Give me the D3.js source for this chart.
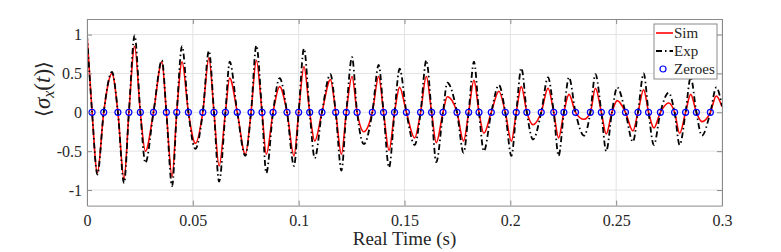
<!DOCTYPE html>
<html>
<head>
<meta charset="utf-8">
<script src="https://cdn.jsdelivr.net/npm/d3@7"></script>
<style>
  body { margin: 0; background: #fff; }
</style>
</head>
<body>
<script>
// time of each extremum (first one is t = 0)
const extTimes = [0, 0.0049, 0.0118, 0.0175, 0.0225, 0.0276, 0.0354, 0.0402, 0.0449, 0.0512,
  0.0576, 0.0624, 0.0674, 0.0748, 0.0800, 0.0847, 0.0910, 0.0978, 0.1025, 0.1076,
  0.1150, 0.1202, 0.1252, 0.1308, 0.1378, 0.1427, 0.1477, 0.1548, 0.1603, 0.1650,
  0.1702, 0.1779, 0.1828, 0.1875, 0.1946, 0.2005, 0.2052, 0.2107, 0.2178, 0.2228,
  0.2277, 0.2348, 0.2402, 0.2453, 0.2505, 0.2579, 0.2630, 0.2678, 0.2748, 0.2800,
  0.2852, 0.2905, 0.2973];
const expExt = [1.0, -0.80, 0.52, -0.91, 0.99, -0.65, 0.67, -0.95, 0.85, -0.47,
  0.79, -0.89, 0.65, -0.56, 0.86, -0.78, 0.44, -0.69, 0.82, -0.59,
  0.49, -0.75, 0.71, -0.41, 0.61, -0.71, 0.56, -0.42, 0.67, -0.64,
  0.38, -0.52, 0.65, -0.50, 0.35, -0.56, 0.57, -0.35, 0.45, -0.56,
  0.45, -0.30, 0.49, -0.50, 0.32, -0.38, 0.50, -0.42, 0.25, -0.42,
  0.45, -0.30, 0.32];
const simExt = [1.0, -0.78, 0.50, -0.86, 0.85, -0.50, 0.65, -0.83, 0.65, -0.40,
  0.70, -0.69, 0.44, -0.54, 0.67, -0.54, 0.33, -0.56, 0.59, -0.37,
  0.42, -0.54, 0.46, -0.25, 0.46, -0.49, 0.32, -0.33, 0.46, -0.39,
  0.20, -0.37, 0.41, -0.27, 0.27, -0.37, 0.33, -0.16, 0.31, -0.33,
  0.23, -0.09, 0.31, -0.28, 0.15, -0.24, 0.29, -0.20, 0.12, -0.27,
  0.23, -0.12, 0.21];
// value at the right edge (t = 0.3)
const endTime = 0.3;
const expEnd = 0.08;
const simEnd = 0.07;
// blue circles on the zero line
const zeroTimes = [0.0024, 0.0079, 0.0146, 0.0198, 0.0252, 0.0314, 0.0375, 0.0424, 0.0479, 0.0547,
  0.0600, 0.0654, 0.0710, 0.0775, 0.0827, 0.0879, 0.0945, 0.1000, 0.1052, 0.1110,
  0.1175, 0.1225, 0.1276, 0.1348, 0.1401, 0.1453, 0.1509, 0.1576, 0.1628, 0.1682,
  0.1748, 0.1803, 0.1852, 0.1910, 0.1976, 0.2028, 0.2078, 0.2146, 0.2205, 0.2253,
  0.2308, 0.2378, 0.2430, 0.2480, 0.2544, 0.2603, 0.2653, 0.2709, 0.2776, 0.2828,
  0.2879, 0.2945];

const xTicks = [0, 0.05, 0.1, 0.15, 0.2, 0.25, 0.3];
const xTickLabels = ["0", "0.05", "0.1", "0.15", "0.2", "0.25", "0.3"];
const yTicks = [-1, -0.5, 0, 0.5, 1];
const yTickLabels = ["-1", "-0.5", "0", "0.5", "1"];
const legendLabels = ["Sim", "Exp", "Zeroes"];

const W = 781, H = 252;
const plotL = 87, plotR = 722, plotT = 19, plotB = 205.6;
const serif = "'Liberation Serif', 'DejaVu Serif', serif";
const textColor = "#262626";

const svg = d3.select("body").append("svg")
    .attr("width", W)
    .attr("height", H)
    .style("font-family", serif);

const x = d3.scaleLinear().domain([0, 0.3]).range([plotL, plotR]);
const y = d3.scaleLinear().domain([-1.2, 1.2]).range([plotB, plotT]);

// grid
svg.append("g").selectAll("line").data(xTicks).join("line")
    .attr("x1", d => x(d)).attr("x2", d => x(d))
    .attr("y1", plotT).attr("y2", plotB)
    .attr("stroke", "#e3e3e3").attr("stroke-width", 1);
svg.append("g").selectAll("line").data(yTicks).join("line")
    .attr("x1", plotL).attr("x2", plotR)
    .attr("y1", d => y(d)).attr("y2", d => y(d))
    .attr("stroke", "#e3e3e3").attr("stroke-width", 1);

// build each series: extremum, zero, extremum, ...
function series(ext, endVal) {
  const pts = [];
  extTimes.forEach((t, i) => {
    pts.push([t, ext[i]]);
    if (i < zeroTimes.length) pts.push([zeroTimes[i], 0]);
  });
  pts.push([endTime, endVal]);
  return pts;
}

const line = d3.line()
    .x(d => x(d[0]))
    .y(d => y(d[1]))
    .curve(d3.curveMonotoneX);

svg.append("defs").append("clipPath").attr("id", "clip")
  .append("rect").attr("x", plotL).attr("y", plotT)
    .attr("width", plotR - plotL).attr("height", plotB - plotT);

const plot = svg.append("g").attr("clip-path", "url(#clip)");

plot.append("path")
    .attr("d", line(series(simExt, simEnd)))
    .attr("fill", "none")
    .attr("stroke", "#ff0000")
    .attr("stroke-width", 1.6);

plot.append("path")
    .attr("d", line(series(expExt, expEnd)))
    .attr("fill", "none")
    .attr("stroke", "#000")
    .attr("stroke-width", 1.8)
    .attr("stroke-dasharray", "6,3,1.5,3");

plot.append("g").selectAll("circle").data(zeroTimes).join("circle")
    .attr("cx", d => x(d))
    .attr("cy", y(0))
    .attr("r", 3)
    .attr("fill", "none")
    .attr("stroke", "#0000ff")
    .attr("stroke-width", 1.2);

// axes, ticks pointing inward on all four sides
const axisColor = "#8a8a8a";
function styleAxis(g) {
  g.attr("font-family", null).attr("font-size", null);
  g.select(".domain").attr("stroke", axisColor);
  g.selectAll(".tick line").attr("stroke", axisColor);
  g.selectAll(".tick text")
    .style("font-family", serif)
    .style("font-size", "16px")
    .attr("fill", textColor);
}

svg.append("g")
    .attr("transform", `translate(0,${plotB})`)
    .call(d3.axisBottom(x).tickValues(xTicks).tickSize(-5).tickSizeOuter(0).tickPadding(9)
      .tickFormat((d, i) => xTickLabels[i]))
    .call(styleAxis);

svg.append("g")
    .attr("transform", `translate(0,${plotT})`)
    .call(d3.axisTop(x).tickValues(xTicks).tickSize(-5).tickSizeOuter(0).tickFormat(""))
    .call(styleAxis);

svg.append("g")
    .attr("transform", `translate(${plotL},0)`)
    .call(d3.axisLeft(y).tickValues(yTicks).tickSize(-5).tickSizeOuter(0).tickPadding(5)
      .tickFormat((d, i) => yTickLabels[i]))
    .call(styleAxis);

svg.append("g")
    .attr("transform", `translate(${plotR},0)`)
    .call(d3.axisRight(y).tickValues(yTicks).tickSize(-5).tickSizeOuter(0).tickFormat(""))
    .call(styleAxis);

// axis titles
svg.append("text")
    .attr("x", (plotL + plotR) / 2)
    .attr("y", 245)
    .attr("text-anchor", "middle")
    .attr("fill", textColor)
    .style("font-family", serif)
    .style("font-size", "19px")
    .text("Real Time (s)");

const yl = svg.append("text")
    .attr("transform", "translate(50,89) rotate(-90)")
    .attr("text-anchor", "middle")
    .attr("fill", textColor)
    .style("font-family", serif)
    .style("font-size", "23px");
yl.append("tspan").style("font-family", "'DejaVu Serif', serif").style("font-size", "20px").text("\u27E8");
yl.append("tspan").style("font-style", "italic").text("σ");
yl.append("tspan").style("font-style", "italic").style("font-size", "16px").attr("dy", 4).text("x");
yl.append("tspan").attr("dy", -4).text("(");
yl.append("tspan").style("font-style", "italic").text("t");
yl.append("tspan").text(")");
yl.append("tspan").style("font-family", "'DejaVu Serif', serif").style("font-size", "20px").text("\u27E9");

// legend
const lg = svg.append("g").attr("transform", "translate(654,24)");
lg.append("rect")
    .attr("width", 63).attr("height", 55)
    .attr("fill", "#fff")
    .attr("stroke", axisColor).attr("stroke-width", 1);

const rowY = [9, 27, 45];
lg.append("line").attr("x1", 2).attr("x2", 19).attr("y1", rowY[0]).attr("y2", rowY[0])
    .attr("stroke", "#ff0000").attr("stroke-width", 1.6);
lg.append("line").attr("x1", 2).attr("x2", 19).attr("y1", rowY[1]).attr("y2", rowY[1])
    .attr("stroke", "#000").attr("stroke-width", 1.8).attr("stroke-dasharray", "6,3,1.5,3");
lg.append("circle").attr("cx", 9).attr("cy", rowY[2]).attr("r", 3)
    .attr("fill", "none").attr("stroke", "#0000ff").attr("stroke-width", 1.2);

lg.selectAll("text.lbl").data(legendLabels).join("text")
    .attr("class", "lbl")
    .attr("x", 20)
    .attr("y", (d, i) => rowY[i])
    .attr("dy", "0.35em")
    .attr("fill", textColor)
    .style("font-family", serif)
    .style("font-size", "15px")
    .text(d => d);
</script>
</body>
</html>
